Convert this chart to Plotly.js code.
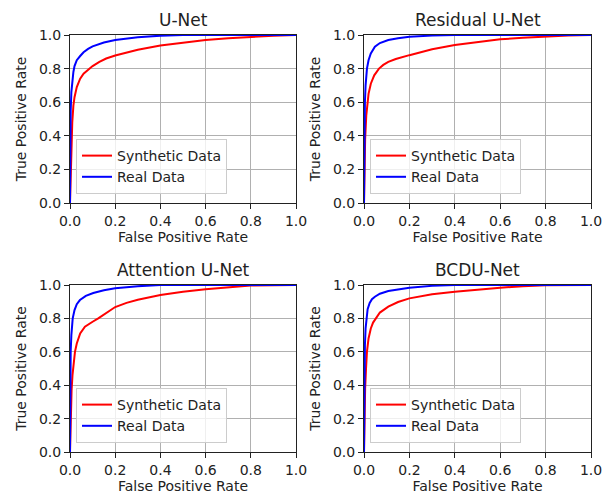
<!DOCTYPE html>
<html>
<head>
<meta charset="utf-8">
<script src="https://cdn.plot.ly/plotly-3.0.1.min.js"></script>
<style>html,body{margin:0;padding:0;background:#fff;}#chart{width:607px;height:497px;}</style>
</head>
<body>
<div id="chart"></div>
<script>
// ---- data ----
const panelTitles = ["U-Net", "Residual U-Net", "Attention U-Net", "BCDU-Net"];
const seriesNames = ["Synthetic Data", "Real Data"];
const tickVals = [0, 0.2, 0.4, 0.6, 0.8, 1.0];
const tickText = ["0.0", "0.2", "0.4", "0.6", "0.8", "1.0"];

const unetSynFpr = [0, 0.003, 0.006, 0.01, 0.015, 0.02, 0.03, 0.045, 0.06, 0.08, 0.1, 0.13, 0.16, 0.2, 0.25, 0.3, 0.4, 0.5, 0.6, 0.7, 0.8, 0.9, 1.0];
const unetSynTpr = [0, 0.2, 0.35, 0.48, 0.58, 0.63, 0.69, 0.74, 0.77, 0.795, 0.815, 0.84, 0.86, 0.878, 0.897, 0.912, 0.937, 0.955, 0.97, 0.981, 0.99, 0.996, 1.0];
const unetRealFpr = [0, 0.001, 0.003, 0.006, 0.01, 0.015, 0.02, 0.03, 0.045, 0.06, 0.08, 0.1, 0.15, 0.2, 0.3, 0.4, 0.5, 1.0];
const unetRealTpr = [0, 0.35, 0.55, 0.66, 0.73, 0.78, 0.815, 0.85, 0.875, 0.897, 0.917, 0.932, 0.955, 0.97, 0.987, 0.996, 1.0, 1.0];

const resSynFpr = [0, 0.002, 0.005, 0.01, 0.015, 0.02, 0.03, 0.045, 0.066, 0.085, 0.107, 0.14, 0.2, 0.3, 0.4, 0.5, 0.6, 0.7, 0.8, 0.9, 1.0];
const resSynTpr = [0, 0.25, 0.38, 0.52, 0.6, 0.65, 0.71, 0.76, 0.8, 0.822, 0.84, 0.857, 0.88, 0.915, 0.94, 0.958, 0.974, 0.984, 0.992, 0.997, 1.0];
const resRealFpr = [0, 0.001, 0.002, 0.004, 0.007, 0.01, 0.013, 0.02, 0.03, 0.048, 0.07, 0.107, 0.15, 0.2, 0.3, 0.4, 1.0];
const resRealTpr = [0, 0.3, 0.45, 0.6, 0.7, 0.76, 0.8, 0.85, 0.89, 0.93, 0.952, 0.97, 0.981, 0.989, 0.997, 1.0, 1.0];

const attSynFpr = [0, 0.002, 0.004, 0.007, 0.011, 0.015, 0.022, 0.03, 0.045, 0.066, 0.085, 0.1, 0.125, 0.147, 0.175, 0.2, 0.25, 0.3, 0.4, 0.5, 0.6, 0.7, 0.8, 1.0];
const attSynTpr = [0, 0.15, 0.26, 0.37, 0.46, 0.53, 0.6, 0.65, 0.71, 0.75, 0.768, 0.78, 0.8, 0.82, 0.848, 0.868, 0.893, 0.912, 0.94, 0.96, 0.975, 0.987, 0.997, 1.0];
const attRealFpr = [0, 0.001, 0.003, 0.006, 0.009, 0.012, 0.02, 0.03, 0.044, 0.07, 0.103, 0.15, 0.2, 0.3, 0.4, 1.0];
const attRealTpr = [0, 0.35, 0.6, 0.7, 0.76, 0.8, 0.85, 0.885, 0.91, 0.935, 0.952, 0.968, 0.98, 0.993, 1.0, 1.0];

const bcduSynFpr = [0, 0.002, 0.005, 0.009, 0.013, 0.02, 0.03, 0.04, 0.051, 0.07, 0.107, 0.15, 0.2, 0.3, 0.4, 0.5, 0.6, 0.7, 0.8, 1.0];
const bcduSynTpr = [0, 0.2, 0.38, 0.5, 0.6, 0.68, 0.74, 0.775, 0.8, 0.835, 0.87, 0.898, 0.92, 0.945, 0.96, 0.973, 0.984, 0.993, 0.999, 1.0];
const bcduRealFpr = [0, 0.001, 0.002, 0.004, 0.007, 0.01, 0.016, 0.025, 0.035, 0.048, 0.07, 0.107, 0.15, 0.2, 0.3, 0.4, 1.0];
const bcduRealTpr = [0, 0.35, 0.5, 0.64, 0.74, 0.8, 0.855, 0.892, 0.915, 0.93, 0.948, 0.964, 0.975, 0.984, 0.995, 1.0, 1.0];

const panels = [
  {syn: [unetSynFpr, unetSynTpr], real: [unetRealFpr, unetRealTpr]},
  {syn: [resSynFpr, resSynTpr], real: [resRealFpr, resRealTpr]},
  {syn: [attSynFpr, attSynTpr], real: [attRealFpr, attRealTpr]},
  {syn: [bcduSynFpr, bcduSynTpr], real: [bcduRealFpr, bcduRealTpr]}
];

// ---- layout geometry ----
const W = 607, H = 497;
const colPx = [[70, 296], [364, 591]];
const rowPx = [[35, 203], [285, 452]];
const FONT = "DejaVu Sans, Liberation Sans, sans-serif";
const TXT = "#222222";

const traces = [];
const layout = {
  width: W, height: H,
  margin: {l: 0, r: 0, t: 0, b: 0},
  paper_bgcolor: "#ffffff", plot_bgcolor: "#ffffff",
  font: {family: FONT, size: 14, color: TXT},
  annotations: [],
  showlegend: true
};

panels.forEach((p, i) => {
  const r = Math.floor(i / 2), c = i % 2;
  const sfx = i === 0 ? "" : String(i + 1);
  const xa = "x" + sfx, ya = "y" + sfx;
  const lg = "legend" + sfx;
  traces.push({x: p.syn[0], y: p.syn[1], xaxis: xa, yaxis: ya, type: "scatter", mode: "lines",
    name: seriesNames[0], legend: lg, line: {color: "#ff0000", width: 2}});
  traces.push({x: p.real[0], y: p.real[1], xaxis: xa, yaxis: ya, type: "scatter", mode: "lines",
    name: seriesNames[1], legend: lg, line: {color: "#0000ff", width: 2}});

  const [x0, x1] = colPx[c], [y0, y1] = rowPx[r];
  const common = {
    range: [0, 1], tickvals: tickVals, ticktext: tickText,
    showgrid: true, gridcolor: "#b0b0b0", gridwidth: 1,
    zeroline: false, showline: true, linecolor: "#222222", linewidth: 1, mirror: true,
    ticks: "outside", ticklen: 5, tickwidth: 1, tickcolor: "#222222",
    tickfont: {family: FONT, size: 14, color: TXT}, fixedrange: true
  };
  layout["xaxis" + sfx] = Object.assign({}, common, {
    domain: [x0 / W, x1 / W], anchor: ya,
    title: {text: "False Positive Rate", font: {family: FONT, size: 14, color: TXT}, standoff: 4}
  });
  layout["yaxis" + sfx] = Object.assign({}, common, {
    domain: [1 - y1 / H, 1 - y0 / H], anchor: xa,
    title: {text: "True Positive Rate", font: {family: FONT, size: 14, color: TXT}, standoff: 9}
  });
  layout[lg] = {
    x: (x0 + 6) / W, y: 1 - (y1 - 9) / H, xanchor: "left", yanchor: "bottom",
    xref: "paper", yref: "paper",
    bgcolor: "rgba(255,255,255,0.8)", bordercolor: "#cccccc", borderwidth: 1,
    font: {family: FONT, size: 14, color: TXT}, itemwidth: 30
  };
  layout.annotations.push({
    text: panelTitles[i], xref: "paper", yref: "paper",
    x: (x0 + x1) / 2 / W, y: 1 - (y0 - 15) / H, xanchor: "center", yanchor: "middle",
    showarrow: false, font: {family: FONT, size: 17, color: TXT}
  });
});

Plotly.newPlot("chart", traces, layout, {displayModeBar: false, staticPlot: true});
</script>
</body>
</html>
